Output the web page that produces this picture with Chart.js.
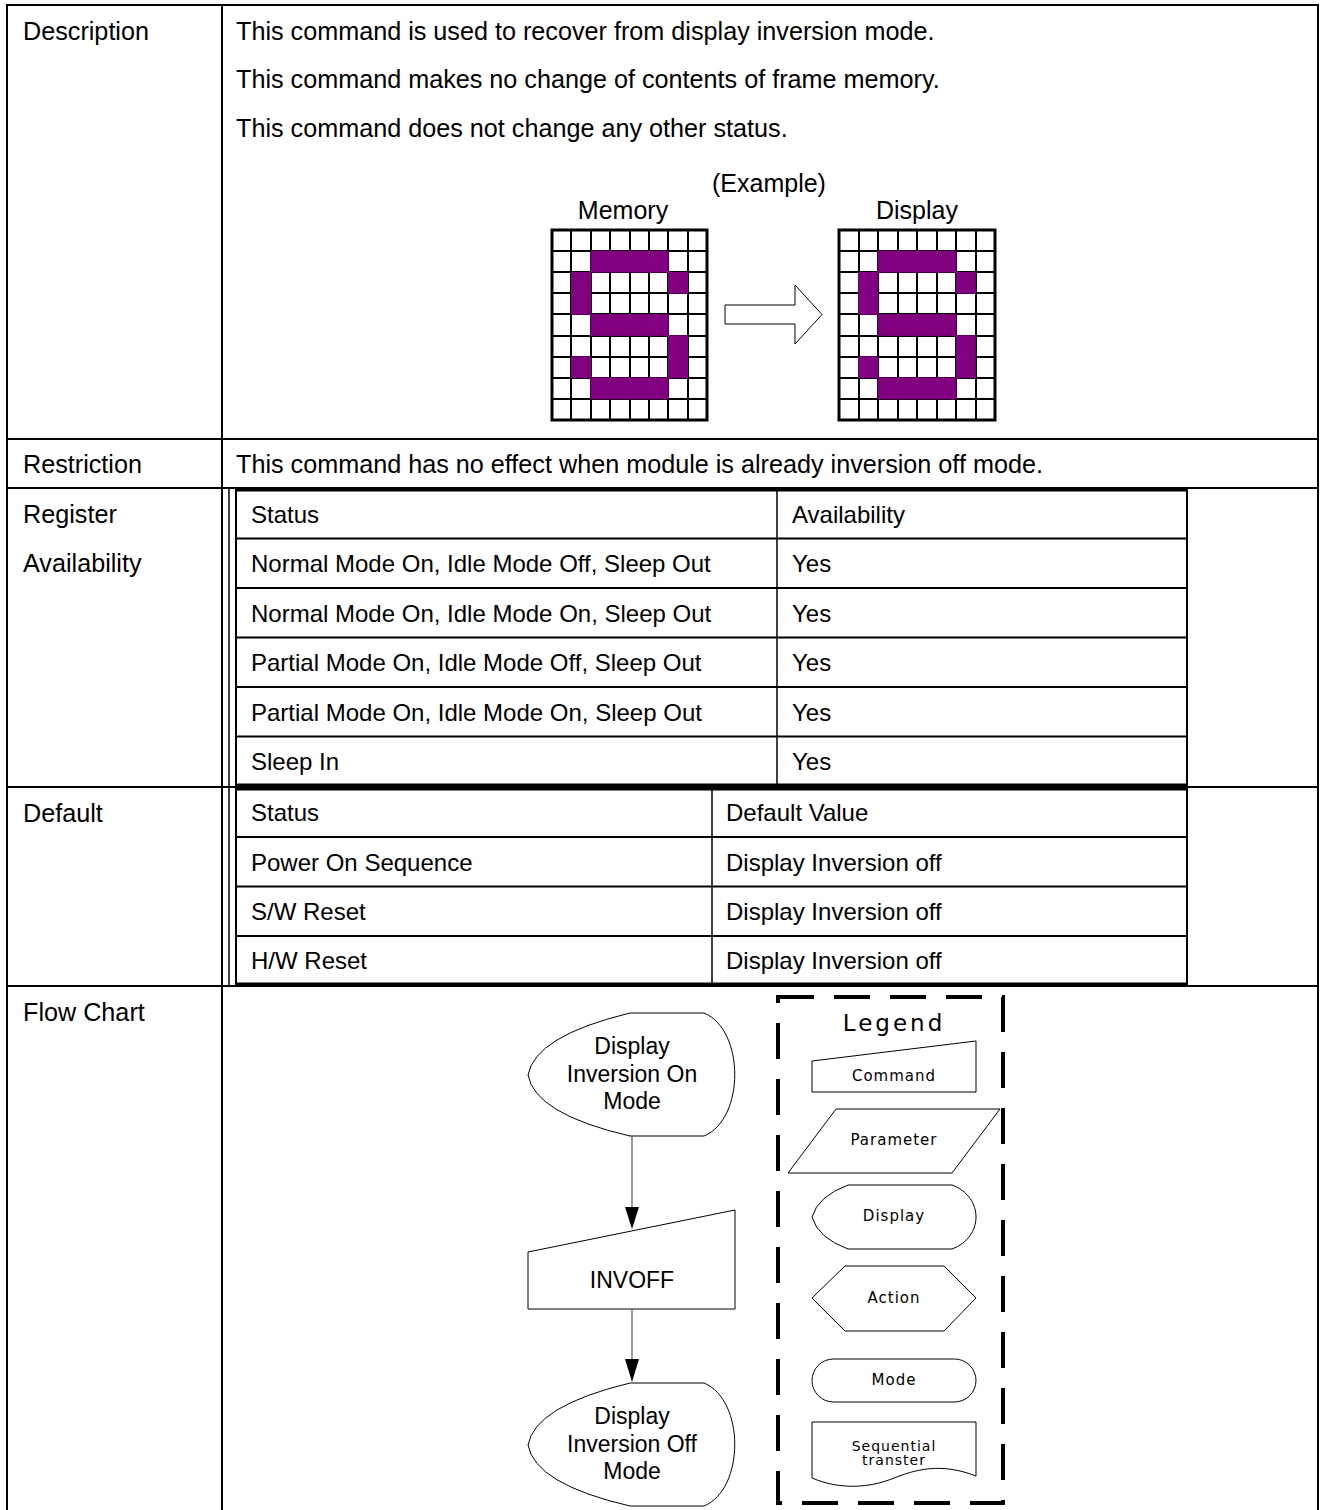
<!DOCTYPE html>
<html>
<head>
<meta charset="utf-8">
<title>Display Inversion Off</title>
<script src="https://cdn.jsdelivr.net/npm/chart.js@4.4.1/dist/chart.umd.min.js"></script>
<style>
  html, body { margin: 0; padding: 0; background: #fff; }
  body { width: 1321px; height: 1510px; position: relative; overflow: hidden; }
  #page { position: absolute; left: 0; top: 0; }
  .txt { font-family: "Liberation Sans", Arial, sans-serif; font-size: 24px; fill: #000; }
  .big { font-size: 25.2px; }
  .fc { font-family: "Liberation Sans", Arial, sans-serif; font-size: 23px; fill: #000; }
  .lg { font-family: "DejaVu Sans", Verdana, sans-serif; font-size: 15px; letter-spacing: 1px; fill: #000; }
  .gridBox { position: absolute; }
</style>
</head>
<body>

<svg id="page" width="1321" height="1510" xmlns="http://www.w3.org/2000/svg">
  <g stroke="#000" fill="none">
    <!-- outer frame -->
    <line x1="7" y1="5" x2="1318" y2="5" stroke-width="2"/>
    <line x1="7" y1="4" x2="7" y2="1510" stroke-width="2"/>
    <line x1="1318" y1="4" x2="1318" y2="1510" stroke-width="2"/>
    <line x1="222" y1="4" x2="222" y2="1510" stroke-width="2"/>
    <line x1="7" y1="439" x2="1318" y2="439" stroke-width="2"/>
    <line x1="7" y1="488" x2="1318" y2="488" stroke-width="2"/>
    <line x1="7" y1="787" x2="1318" y2="787" stroke-width="2"/>
    <line x1="7" y1="986" x2="1318" y2="986" stroke-width="2"/>
    <line x1="229" y1="488" x2="229" y2="986" stroke-width="1.5"/>

    <!-- availability table -->
    <line x1="236" y1="489" x2="236" y2="786" stroke-width="2"/>
    <line x1="1187" y1="489" x2="1187" y2="786" stroke-width="2"/>
    <line x1="777" y1="489" x2="777" y2="786" stroke-width="1.5"/>
    <line x1="235" y1="490" x2="1188" y2="490" stroke-width="3"/>
    <line x1="235" y1="785" x2="1188" y2="785" stroke-width="3"/>
    <line x1="236" y1="538.5" x2="1187" y2="538.5" stroke-width="2"/>
    <line x1="236" y1="588" x2="1187" y2="588" stroke-width="2"/>
    <line x1="236" y1="637.5" x2="1187" y2="637.5" stroke-width="2"/>
    <line x1="236" y1="687" x2="1187" y2="687" stroke-width="2"/>
    <line x1="236" y1="736.5" x2="1187" y2="736.5" stroke-width="2"/>

    <!-- default table -->
    <line x1="236" y1="788" x2="236" y2="985" stroke-width="2"/>
    <line x1="1187" y1="788" x2="1187" y2="985" stroke-width="2"/>
    <line x1="712" y1="788" x2="712" y2="985" stroke-width="1.5"/>
    <line x1="235" y1="789" x2="1188" y2="789" stroke-width="3"/>
    <line x1="235" y1="984" x2="1188" y2="984" stroke-width="3"/>
    <line x1="236" y1="837" x2="1187" y2="837" stroke-width="2"/>
    <line x1="236" y1="886.5" x2="1187" y2="886.5" stroke-width="2"/>
    <line x1="236" y1="936" x2="1187" y2="936" stroke-width="2"/>
  </g>

  <g class="txt" dominant-baseline="central">
    <g class="big">
      <text x="23" y="31">Description</text>
      <text x="236" y="31">This command is used to recover from display inversion mode.</text>
      <text x="236" y="79">This command makes no change of contents of frame memory.</text>
      <text x="236" y="128">This command does not change any other status.</text>

      <text x="23" y="464">Restriction</text>
      <text x="236" y="464">This command has no effect when module is already inversion off mode.</text>

      <text x="23" y="514">Register</text>
      <text x="23" y="562.5">Availability</text>
      <text x="23" y="812.5">Default</text>
      <text x="23" y="1012">Flow Chart</text>
    </g>

    <text x="251" y="514">Status</text>
    <text x="792" y="514">Availability</text>
    <text x="251" y="563.5">Normal Mode On, Idle Mode Off, Sleep Out</text>
    <text x="792" y="563.5">Yes</text>
    <text x="251" y="613">Normal Mode On, Idle Mode On, Sleep Out</text>
    <text x="792" y="613">Yes</text>
    <text x="251" y="662.5">Partial Mode On, Idle Mode Off, Sleep Out</text>
    <text x="792" y="662.5">Yes</text>
    <text x="251" y="712">Partial Mode On, Idle Mode On, Sleep Out</text>
    <text x="792" y="712">Yes</text>
    <text x="251" y="761">Sleep In</text>
    <text x="792" y="761">Yes</text>

    <text x="251" y="812.5">Status</text>
    <text x="726" y="812.5">Default Value</text>
    <text x="251" y="862">Power On Sequence</text>
    <text x="726" y="862">Display Inversion off</text>
    <text x="251" y="911.5">S/W Reset</text>
    <text x="726" y="911.5">Display Inversion off</text>
    <text x="251" y="960.5">H/W Reset</text>
    <text x="726" y="960.5">Display Inversion off</text>
  </g>

  <!-- example captions -->
  <g class="txt" dominant-baseline="central" text-anchor="middle" style="font-size:25px">
    <text x="769" y="183">(Example)</text>
    <text x="623" y="210">Memory</text>
    <text x="917" y="210">Display</text>
  </g>

  <!-- arrow between memory and display -->
  <polygon points="725,305 795,305 795,285 822,314.5 795,344 795,324 725,324" fill="#fff" stroke="#000" stroke-width="1"/>

  <!-- flow chart -->
  <g stroke="#000" stroke-width="1" fill="#fff">
    <path d="M630,1013 L704,1013 C745,1030 745,1119 704,1136 L630,1136 Q535,1114 528,1075 Q535,1036 630,1013 Z"/>
    <polygon points="528,1252 735,1210 735,1309 528,1309"/>
    <path d="M630,1383 L704,1383 C745,1400 745,1489 704,1506 L630,1506 Q535,1484 528,1445 Q535,1406 630,1383 Z"/>
  </g>
  <g stroke="#555" stroke-width="1.2">
    <line x1="632" y1="1136" x2="632" y2="1208"/>
    <line x1="632" y1="1309" x2="632" y2="1360"/>
  </g>
  <g fill="#000">
    <polygon points="625,1207 639,1207 632,1229"/>
    <polygon points="625,1359 639,1359 632,1382"/>
  </g>
  <g class="fc" text-anchor="middle" dominant-baseline="central">
    <text x="632" y="1046">Display</text>
    <text x="632" y="1073.5">Inversion On</text>
    <text x="632" y="1101">Mode</text>
    <text x="632" y="1280">INVOFF</text>
    <text x="632" y="1416">Display</text>
    <text x="632" y="1443.5">Inversion Off</text>
    <text x="632" y="1471">Mode</text>
  </g>

  <!-- legend -->
  <rect x="778" y="997" width="225" height="506" fill="none" stroke="#000" stroke-width="4" stroke-dasharray="36 20"/>
  <g stroke="#000" stroke-width="1" fill="#fff">
    <polygon points="812,1061 976,1041 976,1092 812,1092"/>
    <polygon points="836,1109 1000,1109 952,1173 788,1173"/>
    <path d="M848,1185 L952,1185 C984,1197 984,1237 952,1249 L848,1249 Q818,1238 812,1217 Q818,1196 848,1185 Z"/>
    <polygon points="812,1298 845,1266 944,1266 976,1298 944,1331 845,1331"/>
    <rect x="812" y="1359" width="164" height="43" rx="21.5" ry="21.5"/>
    <path d="M812,1422 H976 V1476 C940,1462 915,1470 894,1478 C870,1488 840,1490 812,1478 Z"/>
  </g>
  <g class="lg" text-anchor="middle" dominant-baseline="central">
    <text x="894" y="1023" style="font-size:23px; letter-spacing:3px">Legend</text>
    <text x="894" y="1076">Command</text>
    <text x="894" y="1140">Parameter</text>
    <text x="894" y="1216">Display</text>
    <text x="894" y="1298">Action</text>
    <text x="894" y="1380">Mode</text>
    <text x="894" y="1446" style="font-size:14px">Sequential</text>
    <text x="894" y="1460" style="font-size:14px">transter</text>
  </g>
</svg>

<div class="gridBox" style="left:549px; top:227px; width:161px; height:196px;"><canvas id="memoryChart"></canvas></div>
<div class="gridBox" style="left:836px; top:227px; width:162px; height:196px;"><canvas id="displayChart"></canvas></div>

<script>
// Pixel pattern of the "S" glyph: for each grid row, the columns that are lit
const gridColumns = ['0', '1', '2', '3', '4', '5', '6', '7'];
const gridRowCount = 9;
const memoryRows = [[], [2, 3, 4, 5], [1, 6], [1], [2, 3, 4, 5], [6], [1, 6], [2, 3, 4, 5], []];
const displayRows = [[], [2, 3, 4, 5], [1, 6], [1], [2, 3, 4, 5], [6], [1, 6], [2, 3, 4, 5], []];
const pixelColor = '#800080';

// Thick frame around the pixel grid
const frameOutline = {
    id: 'frameOutline',
    afterDraw(chart) {
        const { ctx, chartArea } = chart;
        ctx.save();
        ctx.strokeStyle = '#000';
        ctx.lineWidth = 3;
        ctx.strokeRect(chartArea.left, chartArea.top, chartArea.right - chartArea.left, chartArea.bottom - chartArea.top);
        ctx.restore();
    }
};

// One floating-bar dataset per grid row, each lit cell spans [row, row + 1]
function buildDatasets(rows) {
    const datasets = [];
    rows.forEach((cols, r) => {
        if (cols.length === 0) return;
        datasets.push({
            label: 'row ' + r,
            data: gridColumns.map((c, i) => cols.includes(i) ? [r, r + 1] : null),
            backgroundColor: pixelColor,
            borderWidth: 0,
            barPercentage: 1,
            categoryPercentage: 1,
            grouped: false
        });
    });
    return datasets;
}

function makePixelChart(canvasId, rows) {
    const ctx = document.getElementById(canvasId);
    return new Chart(ctx, {
        type: 'bar',
        data: {
            labels: gridColumns,
            datasets: buildDatasets(rows)
        },
        options: {
            responsive: true,
            maintainAspectRatio: false,
            animation: false,
            events: [],
            layout: { padding: 3 },
            plugins: {
                legend: { display: false },
                tooltip: { enabled: false }
            },
            scales: {
                x: {
                    type: 'category',
                    z: 1,
                    offset: true,
                    grid: { color: '#000', lineWidth: 2, offset: true, drawTicks: false },
                    border: { display: false },
                    ticks: { display: false }
                },
                y: {
                    type: 'linear',
                    min: 0,
                    max: gridRowCount,
                    reverse: true,
                    z: 1,
                    grid: { color: '#000', lineWidth: 2, drawTicks: false },
                    border: { display: false },
                    ticks: { display: false, stepSize: 1 }
                }
            }
        },
        plugins: [frameOutline]
    });
}

makePixelChart('memoryChart', memoryRows);
makePixelChart('displayChart', displayRows);
</script>
</body>
</html>
